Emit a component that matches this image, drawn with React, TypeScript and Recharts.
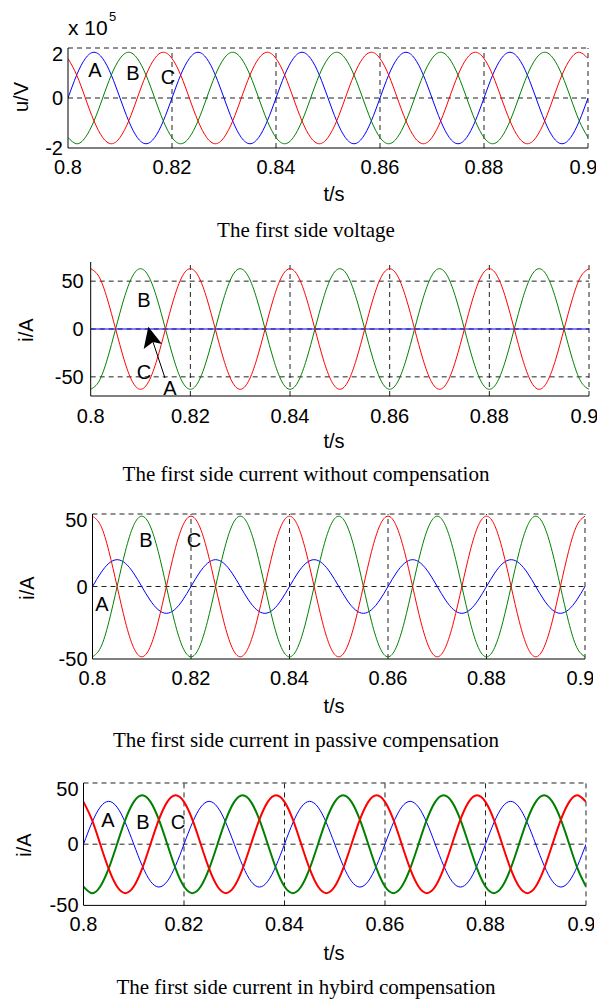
import { LineChart, Line, XAxis, YAxis, ReferenceLine } from "recharts"

// time axis (s), one sample every 1/12 of a 50 Hz period
const time = [
  0.8, 0.80167, 0.80333, 0.805, 0.80667, 0.80833, 0.81, 0.81167, 0.81333, 0.815, 0.81667, 0.81833,
  0.82, 0.82167, 0.82333, 0.825, 0.82667, 0.82833, 0.83, 0.83167, 0.83333, 0.835, 0.83667, 0.83833,
  0.84, 0.84167, 0.84333, 0.845, 0.84667, 0.84833, 0.85, 0.85167, 0.85333, 0.855, 0.85667, 0.85833,
  0.86, 0.86167, 0.86333, 0.865, 0.86667, 0.86833, 0.87, 0.87167, 0.87333, 0.875, 0.87667, 0.87833,
  0.88, 0.88167, 0.88333, 0.885, 0.88667, 0.88833, 0.89, 0.89167, 0.89333, 0.895, 0.89667, 0.89833,
  0.9,
]
const timeTicks = [0.8, 0.82, 0.84, 0.86, 0.88, 0.9]

// first side voltage (x 10^5 V)
const voltA = [
  0, 0.92, 1.58, 1.83, 1.58, 0.92, 0, -0.92, -1.58, -1.83, -1.58, -0.92,
  0, 0.92, 1.58, 1.83, 1.58, 0.92, 0, -0.92, -1.58, -1.83, -1.58, -0.92,
  0, 0.92, 1.58, 1.83, 1.58, 0.92, 0, -0.92, -1.58, -1.83, -1.58, -0.92,
  0, 0.92, 1.58, 1.83, 1.58, 0.92, 0, -0.92, -1.58, -1.83, -1.58, -0.92,
  0, 0.92, 1.58, 1.83, 1.58, 0.92, 0, -0.92, -1.58, -1.83, -1.58, -0.92,
  0,
]
const voltB = [
  -1.58, -1.83, -1.58, -0.92, 0, 0.92, 1.58, 1.83, 1.58, 0.92, 0, -0.92,
  -1.58, -1.83, -1.58, -0.92, 0, 0.92, 1.58, 1.83, 1.58, 0.92, 0, -0.92,
  -1.58, -1.83, -1.58, -0.92, 0, 0.92, 1.58, 1.83, 1.58, 0.92, 0, -0.92,
  -1.58, -1.83, -1.58, -0.92, 0, 0.92, 1.58, 1.83, 1.58, 0.92, 0, -0.92,
  -1.58, -1.83, -1.58, -0.92, 0, 0.92, 1.58, 1.83, 1.58, 0.92, 0, -0.92,
  -1.58,
]
const voltC = [
  1.58, 0.92, 0, -0.92, -1.58, -1.83, -1.58, -0.92, 0, 0.92, 1.58, 1.83,
  1.58, 0.92, 0, -0.92, -1.58, -1.83, -1.58, -0.92, 0, 0.92, 1.58, 1.83,
  1.58, 0.92, 0, -0.92, -1.58, -1.83, -1.58, -0.92, 0, 0.92, 1.58, 1.83,
  1.58, 0.92, 0, -0.92, -1.58, -1.83, -1.58, -0.92, 0, 0.92, 1.58, 1.83,
  1.58, 0.92, 0, -0.92, -1.58, -1.83, -1.58, -0.92, 0, 0.92, 1.58, 1.83,
  1.58,
]

// current without compensation (A)
const noCompA = [
  0, 0, 0, 0, 0, 0, 0, 0, 0, 0, 0, 0,
  0, 0, 0, 0, 0, 0, 0, 0, 0, 0, 0, 0,
  0, 0, 0, 0, 0, 0, 0, 0, 0, 0, 0, 0,
  0, 0, 0, 0, 0, 0, 0, 0, 0, 0, 0, 0,
  0, 0, 0, 0, 0, 0, 0, 0, 0, 0, 0, 0,
  0,
]
const noCompB = [
  -63, -54.6, -31.5, 0, 31.5, 54.6, 63, 54.6, 31.5, 0, -31.5, -54.6,
  -63, -54.6, -31.5, 0, 31.5, 54.6, 63, 54.6, 31.5, 0, -31.5, -54.6,
  -63, -54.6, -31.5, 0, 31.5, 54.6, 63, 54.6, 31.5, 0, -31.5, -54.6,
  -63, -54.6, -31.5, 0, 31.5, 54.6, 63, 54.6, 31.5, 0, -31.5, -54.6,
  -63, -54.6, -31.5, 0, 31.5, 54.6, 63, 54.6, 31.5, 0, -31.5, -54.6,
  -63,
]
const noCompC = [
  63, 54.6, 31.5, 0, -31.5, -54.6, -63, -54.6, -31.5, 0, 31.5, 54.6,
  63, 54.6, 31.5, 0, -31.5, -54.6, -63, -54.6, -31.5, 0, 31.5, 54.6,
  63, 54.6, 31.5, 0, -31.5, -54.6, -63, -54.6, -31.5, 0, 31.5, 54.6,
  63, 54.6, 31.5, 0, -31.5, -54.6, -63, -54.6, -31.5, 0, 31.5, 54.6,
  63, 54.6, 31.5, 0, -31.5, -54.6, -63, -54.6, -31.5, 0, 31.5, 54.6,
  63,
]

// current in passive compensation (A)
const passA = [
  0, 9.3, 16, 18.5, 16, 9.3, 0, -9.3, -16, -18.5, -16, -9.3,
  0, 9.3, 16, 18.5, 16, 9.3, 0, -9.3, -16, -18.5, -16, -9.3,
  0, 9.3, 16, 18.5, 16, 9.3, 0, -9.3, -16, -18.5, -16, -9.3,
  0, 9.3, 16, 18.5, 16, 9.3, 0, -9.3, -16, -18.5, -16, -9.3,
  0, 9.3, 16, 18.5, 16, 9.3, 0, -9.3, -16, -18.5, -16, -9.3,
  0,
]
const passB = [
  -48.5, -42, -24.3, 0, 24.3, 42, 48.5, 42, 24.3, 0, -24.3, -42,
  -48.5, -42, -24.3, 0, 24.3, 42, 48.5, 42, 24.3, 0, -24.3, -42,
  -48.5, -42, -24.3, 0, 24.3, 42, 48.5, 42, 24.3, 0, -24.3, -42,
  -48.5, -42, -24.3, 0, 24.3, 42, 48.5, 42, 24.3, 0, -24.3, -42,
  -48.5, -42, -24.3, 0, 24.3, 42, 48.5, 42, 24.3, 0, -24.3, -42,
  -48.5,
]
const passC = [
  48.5, 42, 24.3, 0, -24.3, -42, -48.5, -42, -24.3, 0, 24.3, 42,
  48.5, 42, 24.3, 0, -24.3, -42, -48.5, -42, -24.3, 0, 24.3, 42,
  48.5, 42, 24.3, 0, -24.3, -42, -48.5, -42, -24.3, 0, 24.3, 42,
  48.5, 42, 24.3, 0, -24.3, -42, -48.5, -42, -24.3, 0, 24.3, 42,
  48.5, 42, 24.3, 0, -24.3, -42, -48.5, -42, -24.3, 0, 24.3, 42,
  48.5,
]

// current in hybrid compensation (A)
const hybA = [
  0, 17.5, 30.3, 35, 30.3, 17.5, 0, -17.5, -30.3, -35, -30.3, -17.5,
  0, 17.5, 30.3, 35, 30.3, 17.5, 0, -17.5, -30.3, -35, -30.3, -17.5,
  0, 17.5, 30.3, 35, 30.3, 17.5, 0, -17.5, -30.3, -35, -30.3, -17.5,
  0, 17.5, 30.3, 35, 30.3, 17.5, 0, -17.5, -30.3, -35, -30.3, -17.5,
  0, 17.5, 30.3, 35, 30.3, 17.5, 0, -17.5, -30.3, -35, -30.3, -17.5,
  0,
]
const hybB = [
  -34.6, -40, -34.6, -20, 0, 20, 34.6, 40, 34.6, 20, 0, -20,
  -34.6, -40, -34.6, -20, 0, 20, 34.6, 40, 34.6, 20, 0, -20,
  -34.6, -40, -34.6, -20, 0, 20, 34.6, 40, 34.6, 20, 0, -20,
  -34.6, -40, -34.6, -20, 0, 20, 34.6, 40, 34.6, 20, 0, -20,
  -34.6, -40, -34.6, -20, 0, 20, 34.6, 40, 34.6, 20, 0, -20,
  -34.6,
]
const hybC = [
  34.6, 20, 0, -20, -34.6, -40, -34.6, -20, 0, 20, 34.6, 40,
  34.6, 20, 0, -20, -34.6, -40, -34.6, -20, 0, 20, 34.6, 40,
  34.6, 20, 0, -20, -34.6, -40, -34.6, -20, 0, 20, 34.6, 40,
  34.6, 20, 0, -20, -34.6, -40, -34.6, -20, 0, 20, 34.6, 40,
  34.6, 20, 0, -20, -34.6, -40, -34.6, -20, 0, 20, 34.6, 40,
  34.6,
]

const SANS = "'Liberation Sans', Arial, sans-serif"
const SERIF = "'Liberation Serif', 'Times New Roman', serif"

const buildRows = (a: number[], b: number[], c: number[]) =>
  time.map((t, i) => ({ t, a: a[i], b: b[i], c: c[i] }))

type PanelProps = {
  rows: { t: number; a: number; b: number; c: number }[]
  left: number
  right: number
  top: number
  bottom: number
  yDomain: [number, number]
  yTicks: number[]
  yMargin: number
  xMargin: number
  thick?: boolean
}

function Panel({ rows, left, right, top, bottom, yDomain, yTicks, yMargin, xMargin, thick }: PanelProps) {
  const mt = 6
  const mr = 8
  const xh = 34
  const plotH = bottom - top
  const tickStyle = { fontSize: 20, fill: "#000", fontFamily: SANS }
  // dashed grid at every tick except the ones lying on the solid left/bottom axes
  const gridX = timeTicks.slice(1)
  const gridY = yTicks.filter((v) => v !== yDomain[0])
  return (
    <div style={{ position: "absolute", left: 0, top: top - mt }}>
      <LineChart
        width={right + mr}
        height={mt + plotH + xh}
        data={rows}
        margin={{ top: mt, right: mr, bottom: 0, left: 0 }}
      >
        {gridX.map((v) => (
          <ReferenceLine key={"x" + v} x={v} stroke="#222" strokeDasharray="5 4" />
        ))}
        {gridY.map((v) => (
          <ReferenceLine key={"y" + v} y={v} stroke="#222" strokeDasharray="5 4" />
        ))}
        <XAxis
          dataKey="t"
          type="number"
          domain={[0.8, 0.9]}
          ticks={timeTicks}
          allowDataOverflow
          height={xh}
          tickSize={0}
          tickMargin={xMargin}
          axisLine={{ stroke: "#000" }}
          tick={tickStyle}
        />
        <YAxis
          type="number"
          domain={yDomain}
          ticks={yTicks}
          allowDataOverflow
          width={left}
          tickSize={0}
          tickMargin={yMargin}
          axisLine={{ stroke: "#000" }}
          tick={tickStyle}
        />
        <Line type="natural" dataKey="a" stroke="#0000ff" strokeWidth={1} dot={false} isAnimationActive={false} />
        <Line type="natural" dataKey="b" stroke="#008000" strokeWidth={thick ? 2 : 1} dot={false} isAnimationActive={false} />
        <Line type="natural" dataKey="c" stroke="#ff0000" strokeWidth={thick ? 2 : 1} dot={false} isAnimationActive={false} />
      </LineChart>
    </div>
  )
}

const captions = [
  { text: "The first side voltage", y: 237 },
  { text: "The first side current without compensation", y: 481 },
  { text: "The first side current in passive compensation", y: 747 },
  { text: "The first side current in hybird compensation", y: 994 },
]

const phaseLabels = [
  { text: "A", x: 95, y: 70 },
  { text: "B", x: 133, y: 73 },
  { text: "C", x: 168, y: 77 },
  { text: "B", x: 144, y: 300 },
  { text: "C", x: 144, y: 372 },
  { text: "A", x: 170, y: 388 },
  { text: "B", x: 146, y: 540 },
  { text: "C", x: 194, y: 540 },
  { text: "A", x: 102, y: 604 },
  { text: "A", x: 108, y: 820 },
  { text: "B", x: 143, y: 822 },
  { text: "C", x: 178, y: 822 },
]

const yLabels = [
  { text: "u/V", x: 21, y: 97 },
  { text: "i/A", x: 26, y: 330 },
  { text: "i/A", x: 27, y: 588 },
  { text: "i/A", x: 24, y: 845 },
]

const xLabels = [194, 441, 706, 953]

export default function App() {
  return (
    <div style={{ position: "absolute", left: 0, top: 0, width: 604, height: 999, background: "#fff" }}>
      <Panel rows={buildRows(voltA, voltB, voltC)} left={68} right={588} top={47.5} bottom={147.5}
        yDomain={[-2, 2]} yTicks={[-2, 0, 2]} yMargin={5} xMargin={12} />
      <Panel rows={buildRows(noCompA, noCompB, noCompC)} left={90.7} right={589} top={262} bottom={396}
        yDomain={[-70, 70]} yTicks={[-50, 0, 50]} yMargin={7} xMargin={13} />
      <Panel rows={buildRows(passA, passB, passC)} left={92.5} right={585} top={514.3} bottom={659.3}
        yDomain={[-50, 50]} yTicks={[-50, 0, 50]} yMargin={5} xMargin={12} />
      <Panel rows={buildRows(hybA, hybB, hybC)} left={83.5} right={586} top={783.3} bottom={905.7}
        yDomain={[-50, 50]} yTicks={[-50, 0, 50]} yMargin={5} xMargin={11} thick />

      <svg width={604} height={999} style={{ position: "absolute", left: 0, top: 0, pointerEvents: "none" }}>
        <text x={68} y={35} fontFamily={SANS} fontSize={21} fill="#000">x 10</text>
        <text x={109} y={21} fontFamily={SANS} fontSize={13} fill="#000">5</text>
        {phaseLabels.map((l, i) => (
          <text key={i} x={l.x} y={l.y} fontFamily={SANS} fontSize={20} fill="#000"
            textAnchor="middle" dominantBaseline="central">{l.text}</text>
        ))}
        {yLabels.map((l, i) => (
          <text key={i} x={l.x} y={l.y} fontFamily={SANS} fontSize={20} fill="#000"
            textAnchor="middle" dominantBaseline="central" transform={`rotate(-90 ${l.x} ${l.y})`}>{l.text}</text>
        ))}
        {xLabels.map((y, i) => (
          <text key={i} x={334} y={y} fontFamily={SANS} fontSize={20} fill="#000"
            textAnchor="middle" dominantBaseline="central">t/s</text>
        ))}
        {captions.map((c, i) => (
          <text key={i} x={306} y={c.y} fontFamily={SERIF} fontSize={21} fill="#000" textAnchor="middle">{c.text}</text>
        ))}
        <line x1={165} y1={378} x2={153} y2={342} stroke="#000" strokeWidth={1} />
        <polygon points="148.3,326.7 143.7,349 153,342 162,344" fill="#000" />
      </svg>
    </div>
  )
}
